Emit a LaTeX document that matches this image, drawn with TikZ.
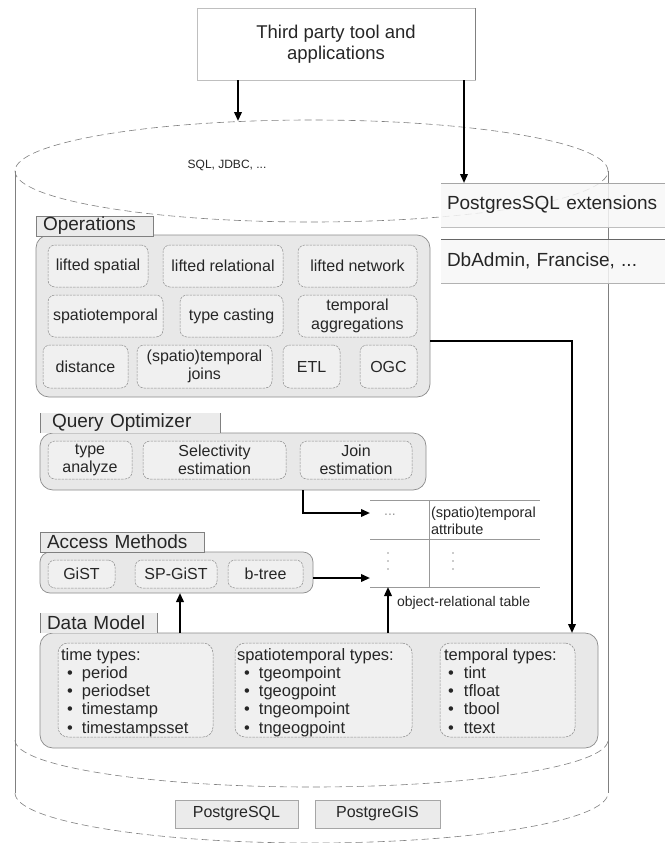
\documentclass[tikz,border=0pt]{standalone}
\usepackage{fontspec}
\setmainfont{Liberation Sans}
\usetikzlibrary{arrows.meta,calc}

\newcommand\fsBig{\fontsize{18.5}{20.5}\selectfont}
\newcommand\fsLbl{\fontsize{19}{20}\selectfont}
\newcommand\fsItem{\fontsize{16}{18.5}\selectfont}
\newcommand\fsType{\fontsize{16.5}{18.3}\selectfont}
\newcommand\fsSmall{\fontsize{14}{17}\selectfont}

\begin{document}
\begin{tikzpicture}[x=1pt,y=-1pt,
  every node/.style={inner sep=0pt, outer sep=0pt, text=black!85},
  cyl/.style={draw=black!50, line width=0.6pt},
  cyldash/.style={cyl, dash pattern=on 7pt off 4pt},
  panel/.style={draw=black!45, fill=black!9, line width=0.7pt, rounded corners=13pt},
  ibox/.style={draw=black!45, fill=black!6, line width=0.5pt,
    dash pattern=on 2.5pt off 1pt, rounded corners=7pt, align=center, font=\fsItem},
  tbox/.style={draw=black!45, fill=black!6, line width=0.5pt,
    dash pattern=on 2.5pt off 1pt, rounded corners=10pt},
  lbl/.style={fill=black!8, anchor=north west, minimum height=20pt,
    align=left, font=\fsLbl},
  lblframe/.style={lbl, draw=black!50, line width=0.6pt},
  side/.style={draw=black!50, line width=0.6pt},
  arr/.style={line width=2pt, -{Triangle[length=9pt,width=7.5pt]}},
  extbox/.style={fill=black!3, fill opacity=0.85, text opacity=1,
    anchor=north west, minimum height=44pt, text width=227pt, inner xsep=6pt,
    align=left, font=\fsLbl},
  pgbox/.style={fill=black!8, draw=black!35, line width=0.6pt, minimum height=28pt,
    font=\fsItem},
  ttl/.style={anchor=base west, font=\fsType},
  tbl line/.style={draw=black!40, line width=0.6pt}
]
\fill[white] (0,0) rectangle (664,843);
\useasboundingbox (0,0) rectangle (664,843);

% database cylinder
\draw[cyl] (15,171) -- (15,793);
\draw[cyl] (608,171) -- (608,793);
\draw[cyldash] (311.5,171) ellipse [x radius=296.5pt, y radius=51pt];
\draw[cyldash] (15,740) arc [start angle=180, end angle=360, x radius=296.5pt, y radius=47pt];
\draw[cyldash] (15,793) arc [start angle=180, end angle=360, x radius=296.5pt, y radius=50pt];
\node[font=\fontsize{12}{14}\selectfont] (sql) at (227,165) {SQL, JDBC, ...};

% client applications
\node[draw=black!25, fill=white, minimum width=278pt, minimum height=72pt,
  align=center, font=\fsBig] (apps) at (336,44) {Third party tool and\\applications};
\draw[black!50, line width=0.6pt] (apps.north east) -- (apps.south east);

% extension boxes on the right
\node[extbox] (ext) at (441,183) {PostgresSQL extensions};
\draw[black!35, line width=0.6pt] (ext.north west) -- (ext.north east);
\draw[black!25, line width=0.6pt] (ext.south west) -- (ext.south east);
\node[extbox] (dba) at (441,239) {DbAdmin, Francise, ...};
\draw[black!60, line width=0.7pt] (dba.north west) -- (dba.north east);
\draw[black!30, line width=0.6pt] (dba.south west) -- (dba.south east);

\coordinate (cyltop) at (238,121);
\coordinate (extin) at (464,0);
\draw[arr] (apps.south -| cyltop) -- (cyltop);
\draw[arr] (apps.south -| extin) -- (ext.north -| extin);

% Operations
\node[panel, minimum width=394pt, minimum height=162pt] (ops) at (233,316) {};
\node[lblframe, text width=103pt, inner xsep=7pt] (opsl) at (36,216) {Operations};
\node[ibox, minimum width=100pt, minimum height=42pt] (o1) at (98,266) {lifted spatial};
\node[ibox, minimum width=120pt, minimum height=42pt] (o2) at (223,266) {lifted relational};
\node[ibox, minimum width=119pt, minimum height=42pt] (o3) at (357.5,266) {lifted network};
\node[ibox, minimum width=115pt, minimum height=42pt] (o4) at (105.5,316) {spatiotemporal};
\node[ibox, minimum width=103pt, minimum height=42pt] (o5) at (231.5,316) {type casting};
\node[ibox, minimum width=119pt, minimum height=42pt] (o6) at (357.5,316) {temporal\\aggregations};
\node[ibox, minimum width=85pt, minimum height=43pt] (o7) at (85.5,366.5) {distance};
\node[ibox, minimum width=135pt, minimum height=43pt] (o8) at (204.5,366.5) {(spatio)temporal\\joins};
\node[ibox, minimum width=57pt, minimum height=43pt] (o9) at (311.5,366.5) {ETL};
\node[ibox, minimum width=57pt, minimum height=43pt] (o10) at (388.5,366.5) {OGC};

% Query Optimizer
\node[panel, minimum width=386pt, minimum height=57pt] (qo) at (233,461.5) {};
\node[lbl, text width=156pt, inner xsep=12pt] (qol) at (40,413) {Query Optimizer};
\draw[side] (qol.north west) -- (qol.south west);
\draw[side] (qol.north east) -- (qol.south east);
\node[ibox, minimum width=84pt, minimum height=38pt] (q1) at (90,460) {type\\analyze};
\node[ibox, minimum width=143pt, minimum height=38pt] (q2) at (214.5,460) {Selectivity\\estimation};
\node[ibox, minimum width=112pt, minimum height=38pt] (q3) at (356,460) {Join\\estimation};

% Access Methods
\node[panel, rounded corners=10pt, minimum width=273pt, minimum height=41pt] (am) at (176.5,572.5) {};
\node[lblframe, text width=150pt, inner xsep=7pt] (aml) at (40,532) {Access Methods};
\node[ibox, minimum width=67pt, minimum height=28pt] (a1) at (81.5,574) {GiST};
\node[ibox, minimum width=82pt, minimum height=28pt] (a2) at (176,574) {SP-GiST};
\node[ibox, minimum width=75pt, minimum height=28pt] (a3) at (265.5,574) {b-tree};

% object-relational table
\node[minimum width=170pt, minimum height=87pt] (tbl) at (455,543.5) {};
\draw[tbl line] (tbl.north west) -- (tbl.north east);
\draw[tbl line] ($(tbl.north west)+(0,39)$) -- ($(tbl.north east)+(0,39)$);
\draw[tbl line] (tbl.south west) -- (tbl.south east);
\draw[tbl line] ($(tbl.north west)+(59,0)$) -- ($(tbl.south west)+(59,0)$);
\node[font=\fsSmall, text=black!40] (tdots) at (390,515) {...};
\node[anchor=north west, align=left, font=\fontsize{14.5}{17}\selectfont] (tattr) at (431,507) {(spatio)temporal\\attribute};
\foreach \xx in {388,453}
  \foreach \yy in {553,561,569}
    \fill[black!40] (\xx,\yy) circle [radius=0.9pt];
\node[anchor=west, font=\fsSmall] (ortl) at (397,603) {object-relational table};

% Data Model
\node[panel, minimum width=558pt, minimum height=115pt] (dm) at (319,690.5) {};
\node[lbl, text width=103pt, inner xsep=7pt] (dml) at (40,613) {Data Model};
\draw[side] (dml.north west) -- (dml.south west);
\draw[side] (dml.north east) -- (dml.south east);
\node[tbox, minimum width=155pt, minimum height=94pt] (d1) at (135.5,690) {};
\node[tbox, minimum width=177pt, minimum height=94pt] (d2) at (323.5,690) {};
\node[tbox, minimum width=135pt, minimum height=94pt] (d3) at (507.5,690) {};

\node[ttl] (d1t) at (61,660) {time types:};
\foreach \t [count=\i] in {period,periodset,timestamp,timestampsset}
  \node[ttl] (d1i\i) at ({67},{660+\i*18.3}) {\makebox[15pt][l]{•}\t};
\node[ttl] (d2t) at (237,660) {spatiotemporal types:};
\foreach \t [count=\i] in {tgeompoint,tgeogpoint,tngeompoint,tngeogpoint}
  \node[ttl] (d2i\i) at ({244},{660+\i*18.3}) {\makebox[15pt][l]{•}\t};
\node[ttl] (d3t) at (444,660) {temporal types:};
\foreach \t [count=\i] in {tint,tfloat,tbool,ttext}
  \node[ttl] (d3i\i) at ({448},{660+\i*18.3}) {\makebox[16pt][l]{•}\t};

% base systems
\node[pgbox, minimum width=123pt] (pg) at (236.5,814) {PostgreSQL};
\node[pgbox, minimum width=125pt] (pgis) at (377.5,814) {PostgreGIS};

% connectors
\coordinate (jx) at (303,0);
\coordinate (spx) at (180,0);
\coordinate (orx) at (388,0);
\coordinate (dnx) at (572,0);
\draw[arr] (qo.south -| jx) |- ([yshift=30.5pt]tbl.west);
\draw[arr] ([yshift=-5.5pt]am.east) -- ([yshift=-5.5pt]am.east -| tbl.west);
\draw[arr] (dm.north -| spx) -- (am.south -| spx);
\draw[arr] (dm.north -| orx) -- (tbl.south -| orx);
\draw[arr] ([yshift=-25pt]ops.east) -| (dm.north -| dnx);
\end{tikzpicture}
\end{document}
